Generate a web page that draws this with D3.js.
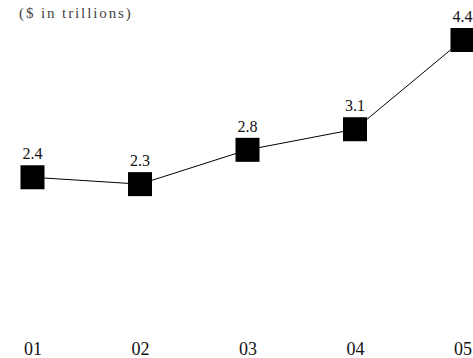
<!DOCTYPE html>
<html>
<head>
<meta charset="utf-8">
<script src="https://cdn.jsdelivr.net/npm/d3@7"></script>
<style>
  html, body { margin: 0; padding: 0; background: #fff; }
  svg { display: block; }
  svg text { font-family: "Liberation Serif", "Times New Roman", Times, "DejaVu Serif", serif; }
</style>
</head>
<body>
<svg id="chart" width="473" height="358"></svg>
<script>
const categories = ["01", "02", "03", "04", "05"];
const values = [2.4, 2.3, 2.8, 3.1, 4.4];
const valueLabels = ["2.4", "2.3", "2.8", "3.1", "4.4"];
const title = "($ in trillions)";

const svg = d3.select("#chart");

const x = d3.scalePoint().domain(categories).range([32.5, 462.5]);
const y = d3.scaleLinear().domain([0, 4.4]).range([342, 40]);

svg.append("text")
  .attr("x", 19).attr("y", 17.5)
  .style("font-size", "15px")
  .attr("letter-spacing", "1.9px")
  .attr("fill", "#444")
  .text(title);

const data = categories.map((c, i) => ({ c, v: values[i], label: valueLabels[i] }));

svg.append("path")
  .datum(data)
  .attr("fill", "none")
  .attr("stroke", "#000")
  .attr("stroke-width", 1)
  .attr("d", d3.line().x(d => x(d.c)).y(d => y(d.v)));

const size = 24;
svg.selectAll("rect.marker").data(data).join("rect")
  .attr("class", "marker")
  .attr("x", d => x(d.c) - size / 2)
  .attr("y", d => y(d.v) - size / 2)
  .attr("width", size).attr("height", size)
  .attr("fill", "#000");

svg.selectAll("text.val").data(data).join("text")
  .attr("class", "val")
  .attr("x", d => x(d.c))
  .attr("y", d => y(d.v) - 18)
  .attr("text-anchor", "middle")
  .style("font-size", "16px")
  .attr("fill", "#111")
  .text(d => d.label);

const xAxis = d3.axisBottom(x).tickSize(0).tickPadding(0);
const gx = svg.append("g").attr("transform", "translate(0,342)").call(xAxis);
gx.attr("font-family", null).attr("font-size", null);
gx.select(".domain").remove();
gx.selectAll("text")
  .attr("dy", null)
  .attr("y", 13)
  .style("font-size", "18px")
  .attr("fill", "#111");
</script>
</body>
</html>
